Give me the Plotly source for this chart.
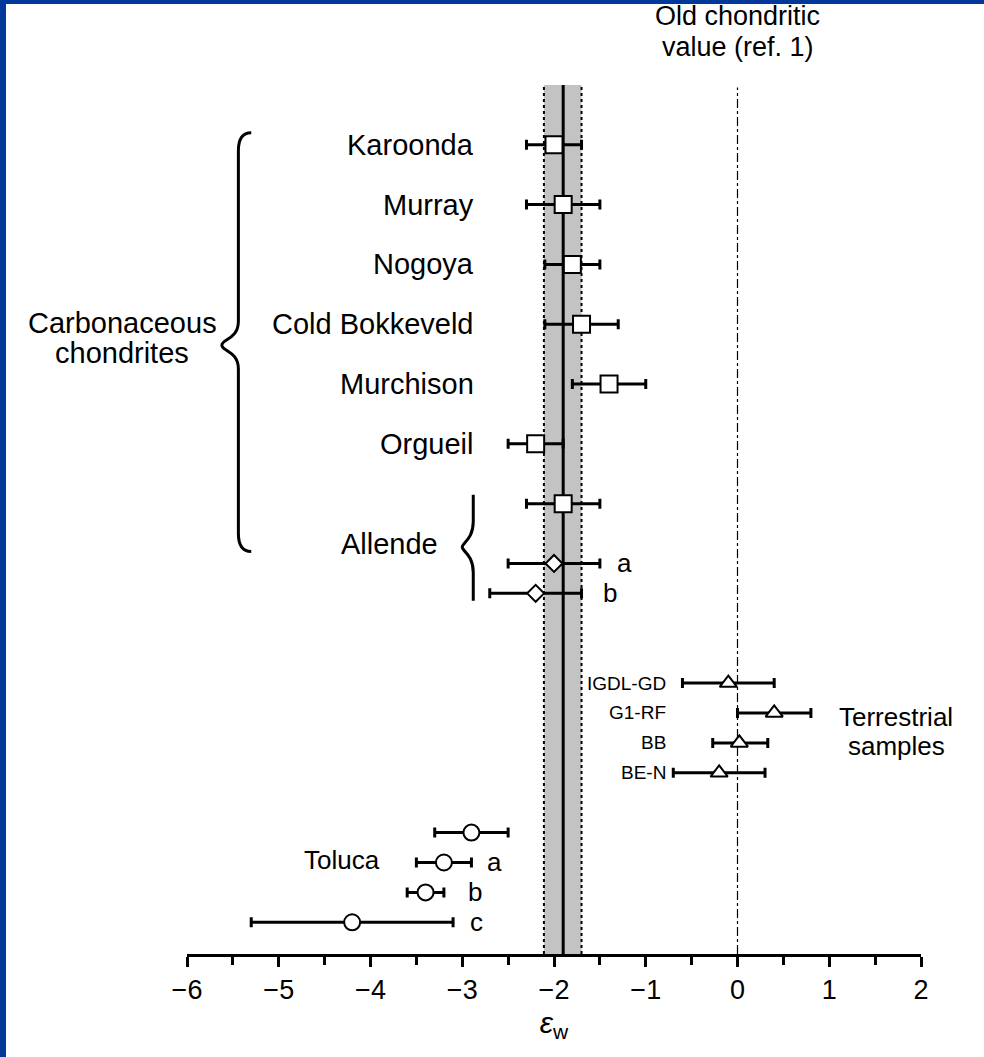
import plotly.graph_objects as go

# ---------------- data ----------------
chondrites = ["Karoonda", "Murray", "Nogoya", "Cold Bokkeveld", "Murchison", "Orgueil", "Allende"]
chond_val = [-2.0, -1.9, -1.8, -1.7, -1.4, -2.2, -1.9]
chond_lo = [-2.3, -2.3, -2.1, -2.1, -1.8, -2.5, -2.3]
chond_hi = [-1.7, -1.5, -1.5, -1.3, -1.0, -1.9, -1.5]
chond_row = [0, 2, 4, 6, 8, 10, 12]

allende_sub = ["a", "b"]
allende_val = [-2.0, -2.2]
allende_lo = [-2.5, -2.7]
allende_hi = [-1.5, -1.7]
allende_row = [14, 15]

terr = ["IGDL-GD", "G1-RF", "BB", "BE-N"]
terr_val = [-0.1, 0.4, 0.02, -0.2]
terr_lo = [-0.6, 0.0, -0.27, -0.7]
terr_hi = [0.4, 0.8, 0.33, 0.3]
terr_row = [18, 19, 20, 21]

toluca_sub = ["", "a", "b", "c"]
toluca_val = [-2.9, -3.2, -3.4, -4.2]
toluca_lo = [-3.3, -3.5, -3.6, -5.3]
toluca_hi = [-2.5, -2.9, -3.2, -3.1]
toluca_row = [23, 24, 25, 26]

new_mean = -1.9
new_lo = -2.11
new_hi = -1.70
old_value = 0.0

tick_vals = [-6, -5, -4, -3, -2, -1, 0, 1, 2]
tick_text = ["\u22126", "\u22125", "\u22124", "\u22123", "\u22122", "\u22121", "0", "1", "2"]

FONT = "Liberation Sans, Arial, Helvetica, sans-serif"
NAME = 29
MID = 26
SMALL = 19


def err(vals, lo, hi):
    return dict(type="data", symmetric=False,
                array=[h - v for v, h in zip(vals, hi)],
                arrayminus=[v - l for v, l in zip(vals, lo)],
                color="black", thickness=3, width=5)


def mk(symbol, size):
    return dict(symbol=symbol, size=size, color="white", line=dict(color="black", width=2))


fig = go.Figure()
fig.add_trace(go.Scatter(x=chond_val, y=chond_row, mode="markers",
                         error_x=err(chond_val, chond_lo, chond_hi), marker=mk("square", 17)))
fig.add_trace(go.Scatter(x=allende_val, y=allende_row, mode="markers",
                         error_x=err(allende_val, allende_lo, allende_hi), marker=mk("diamond", 13)))
fig.add_trace(go.Scatter(x=terr_val, y=terr_row, mode="markers",
                         error_x=err(terr_val, terr_lo, terr_hi), marker=mk("triangle-up", 15)))
fig.add_trace(go.Scatter(x=toluca_val, y=toluca_row, mode="markers",
                         error_x=err(toluca_val, toluca_lo, toluca_hi), marker=mk("circle", 16)))

shapes = []
# grey band of new value
shapes.append(dict(type="rect", xref="x", yref="paper", x0=new_lo, x1=new_hi, y0=0, y1=1,
                   fillcolor="#c3c3c3", line=dict(width=0), layer="below"))
for xv in (new_lo, new_hi):
    shapes.append(dict(type="line", xref="x", yref="paper", x0=xv, x1=xv, y0=0, y1=1,
                       line=dict(color="black", width=2, dash="dot"), layer="below"))
shapes.append(dict(type="line", xref="x", yref="paper", x0=new_mean, x1=new_mean, y0=0, y1=1,
                   line=dict(color="black", width=3), layer="below"))
# old chondritic value
shapes.append(dict(type="line", xref="x", yref="paper", x0=old_value, x1=old_value, y0=0, y1=0.997,
                   line=dict(color="black", width=1.2, dash="dashdot"), layer="below"))

# braces
xl, xe, xt = -5.44, -5.30, -5.62
shapes.append(dict(type="path", xref="x", yref="y",
                   path=(f"M {xe},-0.4 Q {xl},-0.4 {xl},0.2 L {xl},5.9 "
                         f"C {xl},6.5 {xt},6.5 {xt},6.7 C {xt},6.9 {xl},6.9 {xl},7.5 "
                         f"L {xl},13.0 Q {xl},13.6 {xe},13.6"),
                   line=dict(color="black", width=3)))
al, at = -2.88, -3.0
shapes.append(dict(type="path", xref="x", yref="y",
                   path=(f"M {al},11.7 L {al},12.6 C {al},13.2 {at},13.3 {at},13.45 "
                         f"C {at},13.6 {al},13.7 {al},14.3 L {al},15.25"),
                   line=dict(color="black", width=3)))

# blue frame (top and left)
W, H = 984, 1057
L, R, T, B = 187, 63, 85, 103
pw, ph = W - L - R, H - T - B
shapes.append(dict(type="rect", xref="paper", yref="paper",
                   x0=-L / pw, x1=(W - L) / pw, y0=(ph + T - 4) / ph, y1=(ph + T) / ph,
                   fillcolor="#023899", line=dict(width=0)))
shapes.append(dict(type="rect", xref="paper", yref="paper",
                   x0=-L / pw, x1=(6 - L) / pw, y0=-B / ph, y1=(ph + T) / ph,
                   fillcolor="#023899", line=dict(width=0)))

ann = []
for n, r in zip(chondrites[:-1], chond_row[:-1]):
    ann.append(dict(x=-2.85, y=r, text=n, xanchor="right", font=dict(size=NAME)))
ann.append(dict(x=-3.24, y=13.35, text=chondrites[-1], xanchor="right", font=dict(size=NAME)))
for s, r, xv in zip(allende_sub, allende_row, [-1.23, -1.39]):
    ann.append(dict(x=xv, y=r, text=s, xanchor="center", font=dict(size=MID)))
for n, r in zip(terr, terr_row):
    ann.append(dict(x=-0.76, y=r, text=n, xanchor="right", font=dict(size=SMALL)))
ann.append(dict(x=1.73, y=19.13, text="Terrestrial", xanchor="center", font=dict(size=MID)))
ann.append(dict(x=1.73, y=20.1, text="samples", xanchor="center", font=dict(size=MID)))
ann.append(dict(x=-4.31, y=23.9, text="Toluca", xanchor="center", font=dict(size=MID)))
for s, r, xv in zip(toluca_sub, toluca_row, [None, -2.65, -2.86, -2.85]):
    if s:
        ann.append(dict(x=xv, y=r, text=s, xanchor="center", font=dict(size=MID)))
ann.append(dict(x=(122 - L) / pw, xref="paper", y=5.95, text="Carbonaceous",
                xanchor="center", font=dict(size=NAME)))
ann.append(dict(x=(122 - L) / pw, xref="paper", y=6.96, text="chondrites",
                xanchor="center", font=dict(size=NAME)))
ann.append(dict(x=old_value, xref="x", yref="paper", y=(ph + T - 16) / ph, text="Old chondritic",
                xanchor="center", font=dict(size=27)))
ann.append(dict(x=old_value, xref="x", yref="paper", y=(ph + T - 47) / ph, text="value (ref. 1)",
                xanchor="center", font=dict(size=27)))
for a in ann:
    a.setdefault("xref", "x")
    a.setdefault("yref", "y")
    a.setdefault("yanchor", "middle")
    a["showarrow"] = False
    a["font"]["color"] = "black"
    a["font"]["family"] = FONT

fig.update_layout(
    width=W, height=H,
    margin=dict(l=L, r=R, t=T, b=B),
    paper_bgcolor="white", plot_bgcolor="white",
    showlegend=False,
    font=dict(family=FONT, color="black"),
    shapes=shapes, annotations=ann,
    xaxis=dict(range=[-6, 2], showgrid=False, zeroline=False,
               showline=True, linecolor="black", linewidth=3,
               ticks="outside", ticklen=10, tickwidth=3, tickcolor="black",
               tickvals=tick_vals, ticktext=tick_text, tickfont=dict(size=27),
               minor=dict(dtick=0.5, tick0=0, ticks="outside", ticklen=8, tickwidth=3, tickcolor="black"),
               title=dict(text="<i>\u03b5</i><sub>w</sub>", font=dict(size=30), standoff=8)),
    yaxis=dict(range=[27.06, -2.0], visible=False, showgrid=False, zeroline=False),
)

fig.write_html("out.html")
